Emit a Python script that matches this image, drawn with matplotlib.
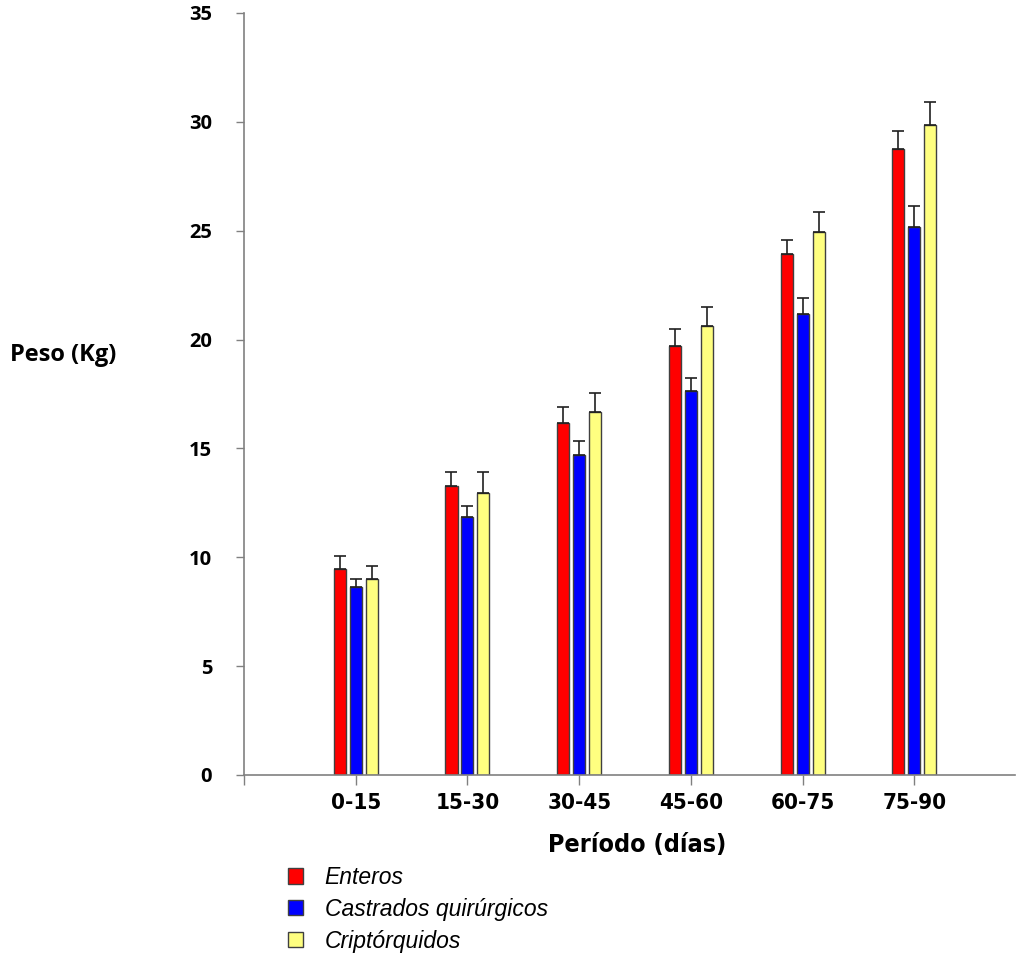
import matplotlib
matplotlib.use("Agg")
import matplotlib.pyplot as plt
import numpy as np
from matplotlib.patches import Patch
from matplotlib import font_manager

categories = ["0-15", "15-30", "30-45", "45-60", "60-75", "75-90"]
enteros = [9.46, 13.26, 16.17, 19.72, 23.92, 28.75]
enteros_err = [0.60, 0.66, 0.75, 0.78, 0.66, 0.83]
castrados = [8.64, 11.84, 14.68, 17.64, 21.16, 25.19]
castrados_err = [0.37, 0.53, 0.66, 0.61, 0.74, 0.95]
cripto = [9.00, 12.95, 16.67, 20.62, 24.94, 29.86]
cripto_err = [0.60, 0.97, 0.89, 0.89, 0.91, 1.05]
series_names = ["Enteros", "Castrados quirúrgicos", "Criptórquidos"]
colors = ["#FF0000", "#0000FF", "#FFFF80"]
yticks = [0, 5, 10, 15, 20, 25, 30, 35]

available = {f.name for f in font_manager.fontManager.ttflist}
narrow = [f for f in ["DejaVu Sans Condensed", "Liberation Sans Narrow"] if f in available]
narrow_family = narrow + ["DejaVu Sans"]
narrow_kw = {} if narrow else {"fontstretch": "condensed"}

fig = plt.figure(figsize=(10.18, 9.55), dpi=100)
ax = fig.add_axes([0.2397, 0.1885, 0.7573, 0.7979])

x = np.arange(1, len(categories) + 1)
w = 0.1075
off = 0.143
data = [(enteros, enteros_err), (castrados, castrados_err), (cripto, cripto_err)]
for i, ((vals, errs), c) in enumerate(zip(data, colors)):
    pos = x + (i - 1) * off
    ax.bar(pos, vals, width=w, color=c, edgecolor="#404040", linewidth=1.0, zorder=2)
    ax.errorbar(pos, vals, yerr=[np.zeros(len(errs)), errs], fmt="none",
                ecolor="#202020", elinewidth=1.2, capsize=4.6, capthick=1.2, zorder=3)

ax.set_xlim(0, 6.9)
ax.set_ylim(0, 35)
ax.set_yticks(yticks)
ax.set_yticklabels([str(t) for t in yticks], fontfamily="Open Sans", fontweight="bold", fontsize=14.5)
ax.set_xticks(x)
ax.set_xticklabels(categories, fontfamily=narrow_family, fontweight="bold", fontsize=16, **narrow_kw)
ax.set_xticks([0], minor=True)
ax.tick_params(axis="y", direction="out", length=6, width=1, color="#808080", pad=17)
ax.tick_params(axis="x", which="both", direction="out", length=7, width=1, color="#808080", pad=6)
for s in ["top", "right"]:
    ax.spines[s].set_visible(False)
for s in ["left", "bottom"]:
    ax.spines[s].set_color("#808080")
    ax.spines[s].set_linewidth(1.2)

fig.text(0.0098, 0.628, "Peso (Kg)", fontfamily="Open Sans", fontweight="bold", fontsize=17,
         ha="left", va="center")
fig.text(0.626, 0.115, "Período (días)", fontfamily=narrow_family,
         fontweight="bold", fontsize=18, ha="center", va="center", **narrow_kw)

handles = [Patch(facecolor=c, edgecolor="#404040", linewidth=1.0) for c in colors]
leg = fig.legend(handles, series_names, loc="upper left", bbox_to_anchor=(0.283, 0.093),
                 frameon=False, prop={"family": "Liberation Sans", "style": "italic", "size": 16.5},
                 handlelength=0.65, handleheight=0.65, handletextpad=0.95, labelspacing=0.38,
                 borderaxespad=0, borderpad=0)

fig.savefig("out.png", dpi=100)
